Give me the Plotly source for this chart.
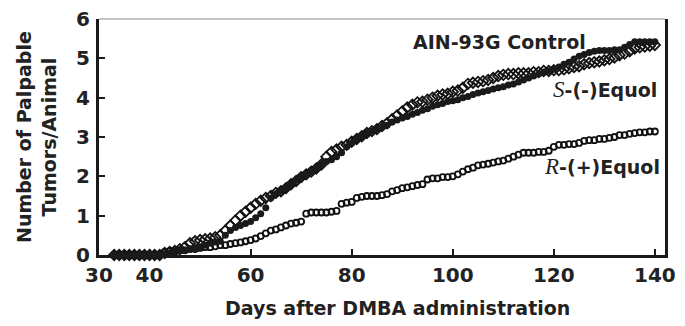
import plotly.graph_objects as go

days = list(range(33, 141))

control = [0]*10 + [
    0.03, 0.05, 0.08, 0.10, 0.12, 0.15, 0.18, 0.20,
    0.25, 0.30, 0.33, 0.35, 0.50, 0.62, 0.70, 0.75, 0.80, 0.85,
    0.95, 1.05, 1.20, 1.45, 1.55, 1.62, 1.70, 1.80, 1.90, 1.98,
    2.05, 2.12, 2.20, 2.30, 2.38, 2.42, 2.50, 2.60, 2.75, 2.85,
    2.95, 3.02, 3.10, 3.15, 3.20, 3.25, 3.30, 3.38, 3.43, 3.48,
    3.52, 3.58, 3.62, 3.68, 3.72, 3.78, 3.82, 3.85, 3.90, 3.92,
    3.95, 4.00, 4.03, 4.08, 4.12, 4.15, 4.18, 4.22, 4.25, 4.28,
    4.32, 4.35, 4.40, 4.45, 4.50, 4.55, 4.60, 4.65, 4.68, 4.72,
    4.78, 4.85, 4.90, 4.98, 5.05, 5.10, 5.15, 5.18, 5.20, 5.20,
    5.20, 5.22, 5.22, 5.28, 5.35, 5.42, 5.42, 5.42, 5.42, 5.42]

s_equol = [0]*10 + [
    0.05, 0.08, 0.10, 0.15, 0.20,
    0.30, 0.35, 0.38, 0.40, 0.42, 0.45, 0.50,
    0.62, 0.75, 0.88, 1.00, 1.10, 1.20,
    1.30, 1.38, 1.45, 1.50, 1.58, 1.62, 1.70, 1.80, 1.88, 1.98,
    2.05, 2.12, 2.20, 2.30, 2.50, 2.62, 2.68, 2.75, 2.80, 2.88,
    2.95, 3.02, 3.10, 3.15, 3.20, 3.28, 3.35, 3.45, 3.55, 3.65,
    3.75, 3.82, 3.88, 3.90, 3.95, 4.00, 4.05, 4.08, 4.10, 4.15,
    4.18, 4.25, 4.35, 4.38, 4.40, 4.42, 4.45, 4.50, 4.55, 4.58,
    4.60, 4.60, 4.62, 4.62, 4.62, 4.65, 4.65, 4.68, 4.68, 4.70,
    4.70, 4.72, 4.75, 4.78, 4.80, 4.85, 4.88, 4.90, 4.92, 4.95,
    4.98, 5.02, 5.08, 5.12, 5.18, 5.25, 5.28, 5.30, 5.32, 5.34]

r_equol = [0]*10 + [
    0.08, 0.10, 0.10, 0.12, 0.12, 0.15, 0.15, 0.18,
    0.20, 0.20, 0.22, 0.25, 0.25, 0.28, 0.30, 0.32, 0.35, 0.38,
    0.42, 0.48, 0.55, 0.62, 0.65, 0.70, 0.75, 0.80, 0.82, 0.85,
    1.05, 1.08, 1.08, 1.08, 1.08, 1.10, 1.12, 1.30, 1.33, 1.35,
    1.45, 1.48, 1.50, 1.50, 1.50, 1.52, 1.55, 1.62, 1.65, 1.70,
    1.72, 1.75, 1.78, 1.80, 1.92, 1.95, 1.95, 1.98, 1.98, 2.00,
    2.05, 2.12, 2.18, 2.22, 2.28, 2.30, 2.32, 2.35, 2.38, 2.40,
    2.45, 2.50, 2.55, 2.60, 2.60, 2.60, 2.62, 2.62, 2.65, 2.75,
    2.80, 2.80, 2.82, 2.82, 2.85, 2.90, 2.92, 2.92, 2.95, 2.95,
    2.98, 3.00, 3.05, 3.05, 3.08, 3.10, 3.12, 3.12, 3.14, 3.14]

x_ticks = [30, 40, 60, 80, 100, 120, 140]
y_ticks = [0, 1, 2, 3, 4, 5, 6]

FONT = "DejaVu Sans"
INK = "#222"

fig = go.Figure()
fig.add_trace(go.Scatter(x=days, y=r_equol, mode="markers", cliponaxis=False,
                         marker=dict(symbol="circle-open", size=6, color="#111",
                                     line=dict(width=1.8, color="#111"))))
fig.add_trace(go.Scatter(x=days, y=s_equol, mode="markers", cliponaxis=False,
                         marker=dict(symbol="diamond-open", size=8, color="#111",
                                     line=dict(width=1.8, color="#111"))))
fig.add_trace(go.Scatter(x=days, y=control, mode="markers", cliponaxis=False,
                         marker=dict(symbol="circle", size=7, color="#1a1a1a",
                                     line=dict(width=0))))

tick_font = dict(family=FONT, size=20, weight="bold", color=INK)

# page body has an 8px default margin, so the figure is sized 8px smaller
fig.update_layout(
    width=677, height=318, showlegend=False,
    paper_bgcolor="white", plot_bgcolor="white",
    margin=dict(l=91, r=20, t=11, b=71, autoexpand=False),
    font=dict(family=FONT, color=INK, size=19),
    xaxis=dict(range=[30, 142], tickvals=x_ticks, ticktext=[str(v) for v in x_ticks],
               showline=True, linecolor="#1a1a1a", linewidth=3, showgrid=False,
               zeroline=False, ticks="inside", ticklen=6, tickwidth=2, tickcolor="#1a1a1a",
               ticklabelstandoff=0, ticklabeloverflow="allow", automargin=False,
               tickfont=tick_font),
    yaxis=dict(range=[0, 6], tickvals=y_ticks, showline=True, mirror=True,
               linecolor="#1a1a1a", linewidth=3, showgrid=False, zeroline=False,
               ticks="inside", ticklen=6, tickwidth=2, tickcolor="#1a1a1a",
               ticklabelstandoff=2, ticklabeloverflow="allow", automargin=False,
               tickfont=tick_font),
)

fig.add_shape(type="line", xref="paper", yref="paper", x0=0, x1=1, y0=1, y1=1,
              line=dict(color="#888", width=1))

# axis titles
fig.add_annotation(xref="paper", yref="paper", x=0.5, xshift=15, y=0, yshift=-53,
                   xanchor="center", yanchor="middle", showarrow=False,
                   text="<b>Days after DMBA administration</b>",
                   font=dict(family=FONT, size=19, color=INK))
fig.add_annotation(xref="paper", yref="paper", x=0, xshift=-63, y=0.5, yshift=0,
                   xanchor="center", yanchor="middle", showarrow=False, textangle=-90,
                   text="<b>Number of Palpable<br>Tumors/Animal</b>",
                   font=dict(family=FONT, size=19, color=INK))

ann_font = dict(family=FONT, size=19, color=INK)
fig.add_annotation(x=126.8, y=5.42, xref="x", yref="y", xanchor="right", yanchor="middle",
                   text="<b>AIN-93G Control</b>", showarrow=False, font=ann_font)
fig.add_annotation(x=140.8, y=4.2, xref="x", yref="y", xanchor="right", yanchor="middle",
                   text="<span style='font-family:Liberation Serif;font-size:23px'><i>S</i></span><b>-(-)Equol</b>",
                   showarrow=False, font=ann_font)
fig.add_annotation(x=141.4, y=2.24, xref="x", yref="y", xanchor="right", yanchor="middle",
                   text="<span style='font-family:Liberation Serif;font-size:23px'><i>R</i></span><b>-(+)Equol</b>",
                   showarrow=False, font=ann_font)

fig.write_html("out.html")
